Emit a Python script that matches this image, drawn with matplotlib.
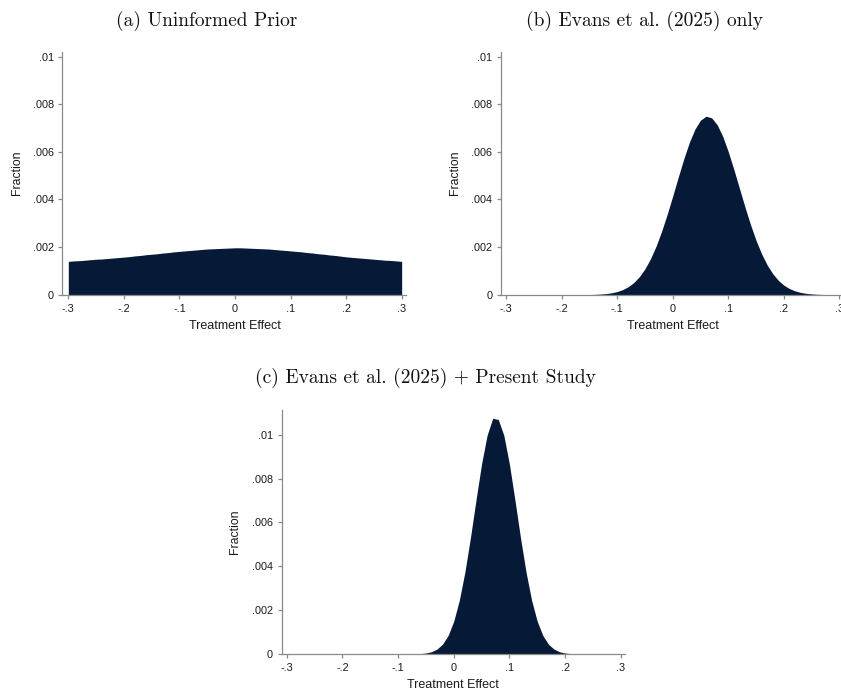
import numpy as np
import matplotlib
matplotlib.use("Agg")
import matplotlib.pyplot as plt

W, H = 841, 691

# ---- data (Fraction per bin) ----
effect_grid = np.linspace(-0.30, 0.30, 61)

prior_fraction = np.array([
    1.40, 1.42, 1.43, 1.45, 1.47, 1.49, 1.50, 1.52, 1.54, 1.56, 1.58,
    1.60, 1.63, 1.65, 1.68, 1.70, 1.72, 1.75, 1.77, 1.80, 1.82,
    1.84, 1.86, 1.88, 1.90, 1.92, 1.93, 1.94, 1.95, 1.96, 1.97,
    1.97, 1.96, 1.95, 1.94, 1.93, 1.92, 1.90, 1.88, 1.86, 1.84,
    1.82, 1.80, 1.77, 1.75, 1.72, 1.70, 1.67, 1.65, 1.62, 1.59,
    1.57, 1.55, 1.53, 1.51, 1.49, 1.47, 1.45, 1.44, 1.42, 1.40]) * 1e-3

evans_fraction = np.array([
    0, 0, 0, 0, 0, 0, 0, 0, 0,
    0.001, 0.002, 0.003, 0.003, 0.004, 0.006, 0.008, 0.014, 0.026, 0.046, 0.079,
    0.132, 0.214, 0.337, 0.514, 0.760, 1.088, 1.513, 2.040, 2.665, 3.377,
    4.151, 4.947, 5.717, 6.406, 6.961, 7.336, 7.500, 7.430, 7.140, 6.650,
    6.005, 5.260, 4.470, 3.680, 2.940, 2.278, 1.711, 1.246, 0.880, 0.603,
    0.400, 0.258, 0.161, 0.097, 0.057, 0.033, 0.018, 0.010, 0.005, 0.003,
    0.001]) * 1e-3

combined_fraction = np.array([
    0, 0, 0, 0, 0, 0, 0, 0, 0, 0,
    0, 0, 0, 0, 0, 0, 0, 0, 0, 0,
    0.001, 0.002, 0.003, 0.007, 0.018, 0.044, 0.103, 0.223, 0.452, 0.850,
    1.493, 2.443, 3.726, 5.297, 7.019, 8.668, 9.978, 10.75, 10.70, 9.978,
    8.668, 7.019, 5.297, 3.726, 2.443, 1.493, 0.850, 0.452, 0.223, 0.103,
    0.044, 0.018, 0.007, 0.003, 0.002, 0.001,
    0, 0, 0, 0, 0]) * 1e-3

x_ticks = [-0.3, -0.2, -0.1, 0, 0.1, 0.2, 0.3]
x_ticklabels = ["-.3", "-.2", "-.1", "0", ".1", ".2", ".3"]
y_ticks = [0, 0.002, 0.004, 0.006, 0.008, 0.01]
y_ticklabels = ["0", ".002", ".004", ".006", ".008", ".01"]

titles = ["(a) Uninformed Prior",
          "(b) Evans et al. (2025) only",
          "(c) Evans et al. (2025) + Present Study"]

# ---- style ----
NAVY = "#061a38"
AXGRAY = "#8a8a8a"
TXT = "#1a1a1a"
SANS = ["Liberation Sans", "DejaVu Sans"]

fig = plt.figure(figsize=(W / 100, H / 100), dpi=100)
fig.patch.set_facecolor("white")


def px_axes(left, right, top, bottom):
    return fig.add_axes([left / W, (H - bottom) / H, (right - left) / W, (bottom - top) / H])


def style(ax, xlim, ylim):
    ax.set_xlim(*xlim)
    ax.set_ylim(*ylim)
    for s in ["top", "right"]:
        ax.spines[s].set_visible(False)
    for s in ["left", "bottom"]:
        ax.spines[s].set_color(AXGRAY)
        ax.spines[s].set_linewidth(0.9)
    ax.set_xticks(x_ticks)
    ax.set_xticklabels(x_ticklabels, fontfamily=SANS, fontsize=7.8, color=TXT)
    ax.set_yticks(y_ticks)
    ax.set_yticklabels(y_ticklabels, fontfamily=SANS, fontsize=7.8, color=TXT)
    ax.tick_params(axis="both", direction="out", length=3.2, width=0.9, color=AXGRAY)
    ax.tick_params(axis="x", pad=3.6)
    ax.tick_params(axis="y", pad=3.0)
    ax.set_facecolor("white")


panels = [
    # data, axes px (left, right, top, bottom), xlim, ylim
    (prior_fraction, (62.3, 406.0, 51.7, 294.7), (-0.3108, 0.3078), (0, 0.01021)),
    (evans_fraction, (501.0, 843.8, 51.7, 294.7), (-0.309, 0.3078), (0, 0.01021)),
    (combined_fraction, (281.7, 625.0, 410.0, 654.0), (-0.309, 0.3077), (0, 0.01113)),
]

for vals, (l, r, t, b), xl, yl in panels:
    ax = px_axes(l, r, t, b)
    style(ax, xl, yl)
    ax.fill_between(effect_grid, 0, vals, color=NAVY, linewidth=0, zorder=1)

# titles (serif, LaTeX-like)
title_pos = [(207, 20.7), (644.7, 20.7), (425.8, 378.3)]
for (tx, ty), tt in zip(title_pos, titles):
    fig.text(tx / W, 1 - ty / H, tt, ha="center", va="center",
             fontfamily="cmr10", fontsize=14, color="#111111")

# axis labels
xlab_pos = [(235, 326), (672.7, 326), (453.3, 685)]
ylab_pos = [(16.7, 173), (455, 173), (235, 531.7)]
for (lx, ly) in xlab_pos:
    fig.text(lx / W, 1 - ly / H, "Treatment Effect", ha="center", va="center",
             fontfamily=SANS, fontsize=9, color=TXT)
for (lx, ly) in ylab_pos:
    fig.text(lx / W, 1 - ly / H, "Fraction", ha="center", va="center",
             rotation=90, fontfamily=SANS, fontsize=8.8, color=TXT)

fig.savefig("out.png", dpi=100, facecolor="white")
